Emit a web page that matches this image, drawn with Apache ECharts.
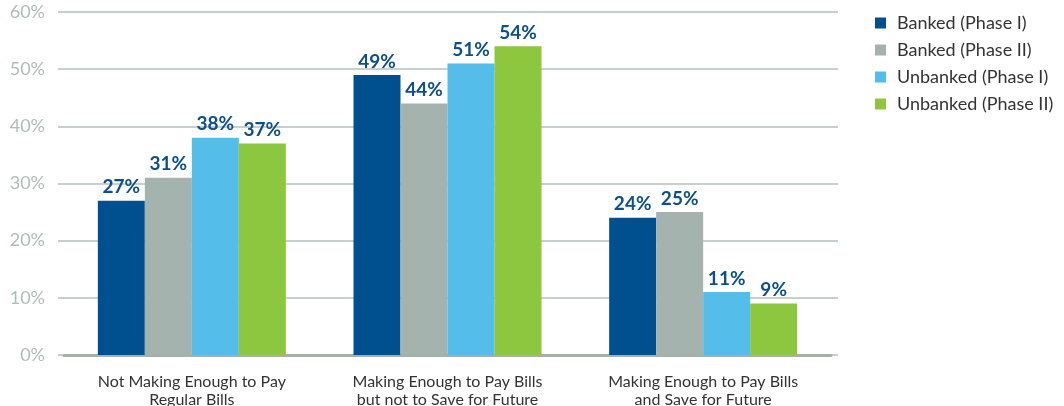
<!DOCTYPE html>
<html><head><meta charset="utf-8">
<script src="https://cdn.jsdelivr.net/npm/echarts@6/dist/echarts.min.js"></script>
<style>html,body{margin:0;padding:0;background:#fff}#c{width:1064px;height:406px}</style>
</head><body><div id="c"></div>
<script>
const categories = ["Not Making Enough to Pay\nRegular Bills", "Making Enough to Pay Bills\nbut not to Save for Future", "Making Enough to Pay Bills\nand Save for Future"];
const seriesNames = ["Banked (Phase I)", "Banked (Phase II)", "Unbanked (Phase I)", "Unbanked (Phase II)"];
const bankedP1 = [27, 49, 24];
const bankedP2 = [31, 44, 25];
const unbankedP1 = [38, 51, 11];
const unbankedP2 = [37, 54, 9];
const yTicks = [0, 10, 20, 30, 40, 50, 60];
const colors = ["#00508f", "#a5b3ae", "#55bde9", "#8dc63f"];
const values = [bankedP1, bankedP2, unbankedP1, unbankedP2];

const chart = echarts.init(document.getElementById('c'));
const font = 'Lato, "Open Sans", sans-serif';
chart.setOption({
  animation: false,
  legend: {
    orient: 'vertical', left: 870, top: 9, itemWidth: 11, itemHeight: 11, itemGap: 9,
    icon: 'rect',
    textStyle: {fontFamily: font, fontSize: 18, color: '#333', padding: [0, 0, 0, 6]},
    data: seriesNames
  },
  grid: [
    {left: 58, right: 226, top: 12, bottom: 51, outerBoundsMode: 'none', containLabel: false},
    {left: 64, right: 233, top: 12, bottom: 51, outerBoundsMode: 'none', containLabel: false}
  ],
  xAxis: [
    {type: 'category', gridIndex: 0, data: categories, show: false},
    {type: 'category', gridIndex: 1, data: categories,
     axisLine: {show: true, lineStyle: {color: '#a5b0ab', width: 3}},
     axisTick: {show: false},
     axisLabel: {fontFamily: font, fontSize: 16, color: '#333', margin: 18, lineHeight: 18}}
  ],
  yAxis: [
    {type: 'value', gridIndex: 0, min: 0, max: 60, interval: 10,
     axisLine: {show: false}, axisTick: {show: false},
     splitLine: {lineStyle: {color: '#b5c0bc', width: 1.5}},
     axisLabel: {fontFamily: font, fontSize: 18, color: '#b0bcb8', margin: 13,
       formatter: v => yTicks.includes(v) ? v + '%' : ''}},
    {type: 'value', gridIndex: 1, min: 0, max: 60, interval: 10, show: false,
     splitLine: {show: false}}
  ],
  series: seriesNames.map((n, i) => ({
    name: n, type: 'bar', xAxisIndex: 1, yAxisIndex: 1,
    data: values[i], barWidth: 47, barGap: '0%',
    itemStyle: {color: colors[i]},
    label: {show: true, position: 'top', distance: 4, formatter: '{c}%',
      fontFamily: font, fontWeight: 'bold', fontSize: 19, color: '#0d4f8b'}
  }))
});
</script></body></html>
